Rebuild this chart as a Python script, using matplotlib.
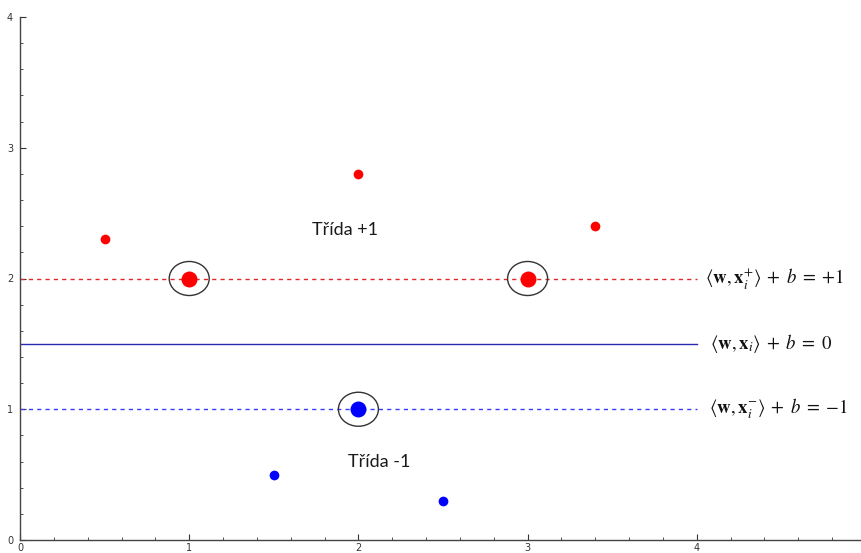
import matplotlib
matplotlib.use('Agg')
import matplotlib.pyplot as plt
from matplotlib.patches import Ellipse
from matplotlib.ticker import MultipleLocator

plt.rcParams['mathtext.fontset'] = 'stix'

# data
red_x = [0.5, 2.0, 3.4]
red_y = [2.3, 2.8, 2.4]
blue_x = [1.5, 2.5]
blue_y = [0.5, 0.3]
sv_red_x = [1.0, 3.0]
sv_red_y = [2.0, 2.0]
sv_blue_x = [2.0]
sv_blue_y = [1.0]
line_levels = [2.0, 1.5, 1.0]
line_labels = [r'$\langle \mathbf{w},\mathbf{x}_i^{+}\rangle\;+\;b\;=\;{+}1$',
               r'$\langle \mathbf{w},\mathbf{x}_i\rangle\;+\;b\;=\;0$',
               r'$\langle \mathbf{w},\mathbf{x}_i^{-}\rangle\;+\;b\;=\;{-}1$']
label_x = [4.05, 4.08, 4.07]
class_labels = ['Třída +1', 'Třída -1']
class_pos = [(1.92, 2.37), (2.12, 0.60)]

fig = plt.figure(figsize=(8.62, 5.53), dpi=100)
ax = fig.add_axes([20/862, 13/553, 842/862, 523/553])
ax.set_xlim(0, 842/169.2)
ax.set_ylim(0, 4.0)

# margin lines
ax.plot([0, 4], [line_levels[0]] * 2, color='#e02828', ls=(0, (3, 3)), lw=1.0)
ax.plot([0, 4], [line_levels[1]] * 2, color='#2a2ab0', ls='-', lw=1.0)
ax.plot([0, 4], [line_levels[2]] * 2, color='#3a3aff', ls=(0, (3, 3)), lw=1.0)

# points
ax.plot(red_x, red_y, 'o', color='#ff0000', ms=7, mec='none')
ax.plot(blue_x, blue_y, 'o', color='#0000ff', ms=7, mec='none')
ax.plot(sv_red_x, sv_red_y, 'o', color='#ff0000', ms=11.5, mec='none', zorder=4)
ax.plot(sv_blue_x, sv_blue_y, 'o', color='#0000ff', ms=11.5, mec='none', zorder=4)

# circles around support vectors
for x, y in zip(sv_red_x + sv_blue_x, sv_red_y + sv_blue_y):
    ax.add_patch(Ellipse((x, y), 40/169.2, 34/130.7, fill=False,
                         edgecolor='#333333', lw=1.0, zorder=5))

for lab, x, y in zip(line_labels, label_x, line_levels):
    ax.text(x, y, lab, fontsize=13.5, va='center', ha='left', color='#111111')

for lab, (x, y) in zip(class_labels, class_pos):
    ax.text(x, y, lab, fontsize=13, ha='center', va='center',
            family=['Lato', 'DejaVu Sans'], color='#1a1a1a')

for s in ['top', 'right']:
    ax.spines[s].set_visible(False)
for s in ['left', 'bottom']:
    ax.spines[s].set_linewidth(1.0)
    ax.spines[s].set_color('#444444')

ax.xaxis.set_major_locator(MultipleLocator(1))
ax.xaxis.set_minor_locator(MultipleLocator(0.2))
ax.yaxis.set_major_locator(MultipleLocator(1))
ax.yaxis.set_minor_locator(MultipleLocator(0.2))
ax.tick_params(which='major', direction='in', length=4, width=0.8,
               labelsize=7, pad=2, colors='#333333')
ax.tick_params(which='minor', direction='in', length=2.5, width=0.6,
               colors='#333333')
ax.tick_params(axis='y', pad=5)

fig.savefig('out.png', dpi=100)
